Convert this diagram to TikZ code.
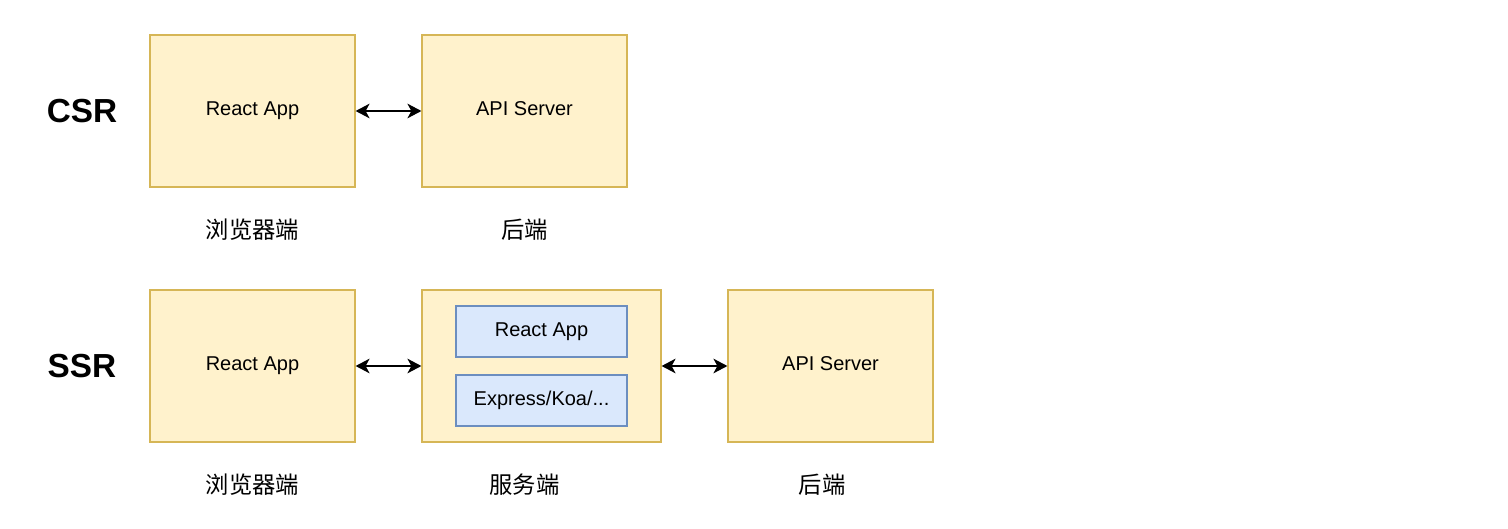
\documentclass[tikz,border=0pt]{standalone}
\usepackage{fontspec}
\setmainfont{Liberation Sans}
\newfontfamily\cjk{Noto Sans CJK SC}
\usetikzlibrary{arrows.meta}
\definecolor{appfill}{HTML}{FFF2CC}
\definecolor{appdraw}{HTML}{D6B656}
\definecolor{subfill}{HTML}{DAE8FC}
\definecolor{subdraw}{HTML}{6C8EBF}
\begin{document}
\begin{tikzpicture}[x=0.75pt,y=-0.75pt,
    box/.style={fill=appfill,draw=appdraw,line width=0.9pt,inner sep=0pt,
                minimum width=153.75pt,minimum height=114pt,
                text height=0.72em,text depth=0pt,font=\fontsize{15}{18}\selectfont},
    subbox/.style={fill=subfill,draw=subdraw,line width=0.9pt,inner sep=0pt,
                   minimum width=128.25pt,minimum height=38.25pt,
                   text height=0.72em,text depth=0pt,font=\fontsize{15}{18}\selectfont},
    side/.style={font=\cjk\fontsize{17.5}{20}\selectfont},
    mode/.style={font=\bfseries\fontsize{25}{30}\selectfont},
    link/.style={{Stealth[length=10.5pt,width=11pt,inset=3pt]}-{Stealth[length=10.5pt,width=11pt,inset=3pt]},line width=0.9pt}]
\useasboundingbox (0,0) rectangle (1508,528);
    % CSR
    \node[mode] (csr) at (82,111) {CSR};
    \node[box] (csrApp) at (252.5,111) {React App};
    \node[box] (csrApi) at (524.5,111) {API Server};
    \node[side] (csrBrowser) at (252.5,230) {浏览器端};
    \node[side] (csrBackend) at (524.5,230) {后端};

    % SSR
    \node[mode] (ssr) at (82,366) {SSR};
    \node[box] (ssrApp) at (252.5,366) {React App};
    \node[box,minimum width=179.25pt] (ssrServer) at (541.5,366) {};
    \node[subbox] (ssrReact) at (541.5,331.5) {React App};
    \node[subbox] (ssrExpress) at (541.5,400.5) {Express/Koa/...};
    \node[box] (ssrApi) at (830.5,366) {API Server};
    \node[side] (ssrBrowser) at (252.5,485) {浏览器端};
    \node[side] (ssrService) at (524.5,485) {服务端};
    \node[side] (ssrBackend) at (822,485) {后端};

    \draw[link] (csrApp) -- (csrApi);
    \draw[link] (ssrApp) -- (ssrServer);
    \draw[link] (ssrServer) -- (ssrApi);
\end{tikzpicture}
\end{document}
